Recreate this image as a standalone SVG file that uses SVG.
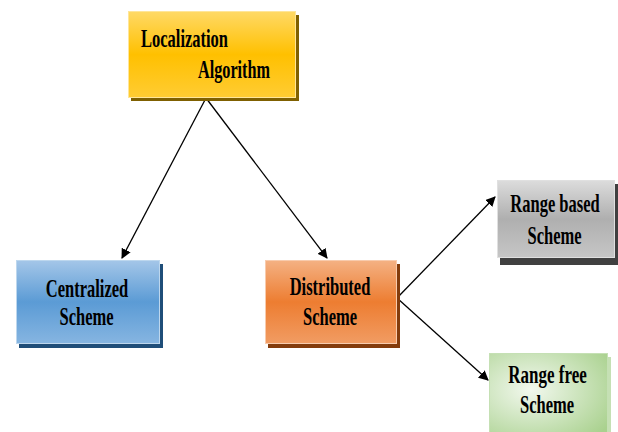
<svg xmlns="http://www.w3.org/2000/svg" width="618" height="432" viewBox="0 0 618 432">
<defs>
<linearGradient id="gGold" x1="0" y1="0" x2="0" y2="1"><stop offset="0" stop-color="#FFD966"/><stop offset="0.5" stop-color="#FFC000"/><stop offset="1" stop-color="#FFCC33"/></linearGradient>
<linearGradient id="gBlue" x1="0" y1="0" x2="0" y2="1"><stop offset="0" stop-color="#A4C6E8"/><stop offset="0.5" stop-color="#5B9BD5"/><stop offset="1" stop-color="#86B5E1"/></linearGradient>
<linearGradient id="gOrange" x1="0" y1="0" x2="0" y2="1"><stop offset="0" stop-color="#F4B183"/><stop offset="0.5" stop-color="#ED7D31"/><stop offset="1" stop-color="#F19C63"/></linearGradient>
<linearGradient id="gGray" x1="0" y1="0" x2="0" y2="1"><stop offset="0" stop-color="#DCDCDC"/><stop offset="0.5" stop-color="#AFAFAF"/><stop offset="1" stop-color="#C6C6C6"/></linearGradient>
<radialGradient id="gGreen" cx="0.35" cy="0.45" r="0.8"><stop offset="0" stop-color="#F2F8EE"/><stop offset="1" stop-color="#A9D18E"/></radialGradient>
<marker id="arr" markerWidth="10" markerHeight="10" refX="9" refY="5" orient="auto" markerUnits="userSpaceOnUse"><path d="M0,0 L10,5 L0,10 z" fill="#000"/></marker>
</defs>
<style>
.t{font-family:"Liberation Serif","Times New Roman",serif;font-weight:bold;font-size:25px;fill:#000;text-anchor:middle}
.ln{stroke:#000;stroke-width:1.3;fill:none;marker-end:url(#arr)}
</style>
<rect width="618" height="432" fill="#fff"/>
<g id="connectors">
<line class="ln" x1="206" y1="98" x2="122" y2="258"/>
<line class="ln" x1="206" y1="98" x2="327" y2="258"/>
<line class="ln" x1="397" y1="298" x2="495" y2="197"/>
<line class="ln" x1="397" y1="298" x2="488" y2="380"/>
</g>
<g id="localization">
<rect x="131" y="15" width="168" height="86" fill="#7F6000"/>
<rect x="128.5" y="11.5" width="167" height="86" fill="url(#gGold)" stroke="#FFE699" stroke-width="1"/>
<text class="t" transform="translate(184.5,47) scale(0.66,1)">Localization</text>
<text class="t" transform="translate(234,78) scale(0.65,1)">Algorithm</text>
</g>
<g id="centralized">
<rect x="19" y="264" width="144" height="84" fill="#1F4E79"/>
<rect x="16.5" y="260.5" width="143" height="83" fill="url(#gBlue)" stroke="#BDD7EE" stroke-width="1"/>
<text class="t" transform="translate(87,297) scale(0.66,1)">Centralized</text>
<text class="t" transform="translate(86.5,325) scale(0.66,1)">Scheme</text>
</g>
<g id="distributed">
<rect x="268" y="264" width="132" height="84" fill="#843C0C"/>
<rect x="265.5" y="260.5" width="131" height="83" fill="url(#gOrange)" stroke="#F8CBAD" stroke-width="1"/>
<text class="t" transform="translate(330,295) scale(0.66,1)">Distributed</text>
<text class="t" transform="translate(330,325) scale(0.66,1)">Scheme</text>
</g>
<g id="rangebased">
<rect x="500" y="184" width="118" height="81" fill="#404040"/>
<rect x="497.5" y="180.5" width="117" height="77" fill="url(#gGray)" stroke="#E0E0E0" stroke-width="1"/>
<text class="t" transform="translate(555,212) scale(0.66,1)">Range based</text>
<text class="t" transform="translate(554.5,244) scale(0.66,1)">Scheme</text>
</g>
<g id="rangefree">
<rect x="492" y="357" width="119" height="80" fill="#C5E0B4"/>
<rect x="489.5" y="353.5" width="118" height="80" fill="url(#gGreen)" stroke="#C5E0B4" stroke-width="1"/>
<text class="t" transform="translate(547.5,383) scale(0.68,1)">Range free</text>
<text class="t" transform="translate(547,413) scale(0.66,1)">Scheme</text>
</g>
</svg>
